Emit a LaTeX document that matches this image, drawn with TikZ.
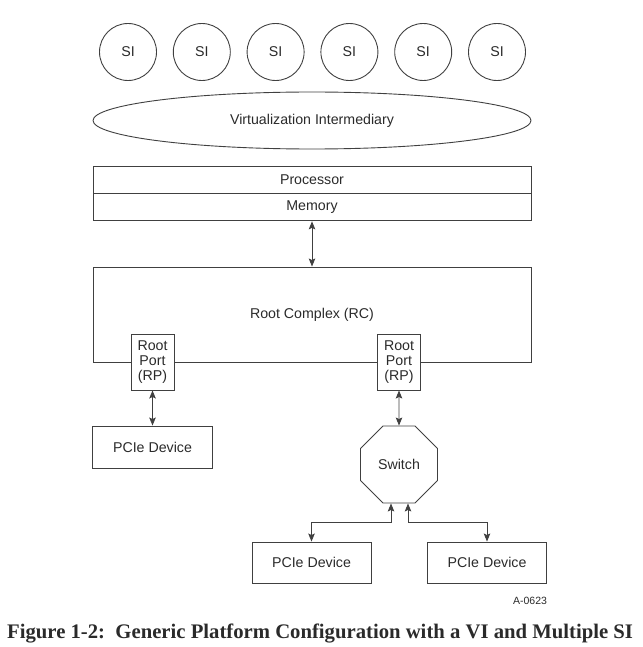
\documentclass[tikz,border=0pt]{standalone}
\usepackage{fontspec}
\setmainfont{Liberation Sans}
\newfontfamily\capfont{Liberation Serif}
\usetikzlibrary{calc}
\usetikzlibrary{arrows.meta,shapes.geometric,positioning}
\definecolor{linegray}{HTML}{404040}
\definecolor{textgray}{HTML}{2a2a2a}

\begin{document}
\begin{tikzpicture}[x=1pt,y=-1pt,>={Stealth[length=8pt,width=6.5pt,inset=1.5pt]},
		every node/.style={text=textgray,font=\fontsize{14.2}{15}\selectfont},
		box/.style={rectangle,draw=linegray,line width=0.9pt,inner sep=0pt},
		si/.style={circle,draw=linegray,line width=0.9pt,minimum size=57pt,inner sep=0pt},
		port/.style={box,fill=white,minimum width=43pt,minimum height=56pt,align=center},
		dev/.style={box,minimum width=119pt,minimum height=41pt},
		link/.style={<->,draw=linegray,line width=0.9pt}]
		\useasboundingbox (0,0) rectangle (642,647);
		
		% system images
		\foreach \i in {1,...,6}
		\node[si] (si\i) at (128+73.8*\i-73.8,52) {SI};
		
		\node[ellipse,draw=linegray,line width=0.9pt,minimum width=438pt,minimum height=57pt,inner sep=0pt]
		(vi) at (312,120.5) {Virtualization Intermediary};
		
		\node[box,minimum width=438pt,minimum height=27pt] (proc) at (312,179.5) {Processor};
		\node[box,minimum width=438pt,minimum height=27pt] (mem)  [below=0pt of proc] {Memory};
		
		\node[box,minimum width=438pt,minimum height=95pt] (rc) at (312,314.5) {Root Complex (RC)};
		\node[port] (rp1) at (152.5,362) {Root\\Port\\(RP)};
		\node[port] (rp2) at (399,362)   {Root\\Port\\(RP)};
		
		\node[dev,minimum width=120pt,minimum height=42pt] (dev1) at (152.5,447) {PCIe Device};
		\node[regular polygon,regular polygon sides=8,draw=linegray,line width=0.9pt,
		minimum size=83.3pt,inner sep=0pt] (sw) at (399,464.5) {Switch};
		\node[dev] (dev2) at (311.5,562.5) {PCIe Device};
		\node[dev] (dev3) at (487,562.5)   {PCIe Device};
		
		\node (tag) at (530,601) {\fontsize{10.5}{12}\selectfont A-0623};
		\node[anchor=base west,inner sep=0pt] (cap) at (7,638)
		{\capfont\bfseries\fontsize{20.7}{24}\selectfont Figure 1-2:\ \ Generic Platform Configuration with a VI and Multiple SI};
		
		\draw[link] (mem) -- (rc);
		\draw[link] (rp1) -- (dev1);
		\draw[link] (rp2) -- (sw);
		\draw[link] ($(sw.south)+(-8,0)$) -- ++(0,19) -| (dev2.north);
		\draw[link] ($(sw.south)+(9,0)$) -- ++(0,19) -| (dev3.north);
\end{tikzpicture}
\end{document}
